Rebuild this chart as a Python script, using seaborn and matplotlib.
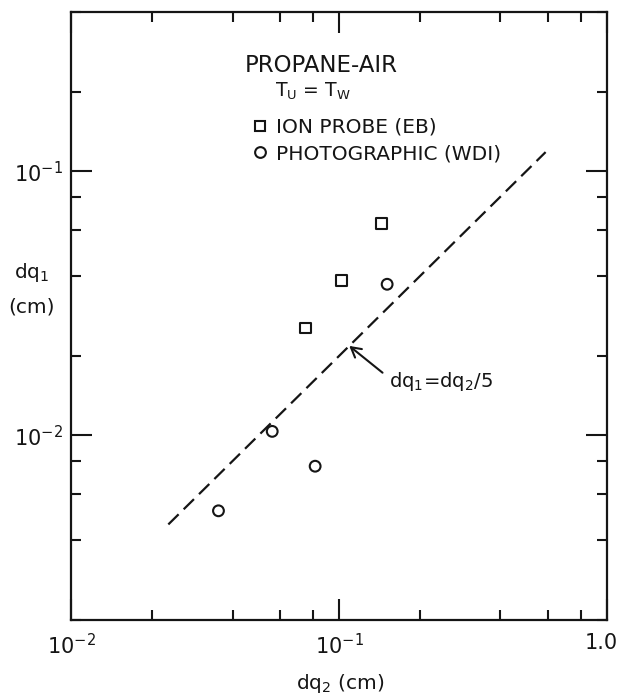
import matplotlib
matplotlib.use("Agg")
import matplotlib.pyplot as plt
from matplotlib.ticker import LogLocator, FixedLocator, FixedFormatter, NullFormatter
from matplotlib.transforms import ScaledTranslation
import pandas as pd
import seaborn as sns

# Quenching distance measurements, propane-air, Tu = Tw
ion_dq2 = [0.0746, 0.1017, 0.1435]
ion_dq1 = [0.0255, 0.0386, 0.0633]
photo_dq2 = [0.0354, 0.0562, 0.0813, 0.151]
photo_dq1 = [0.00518, 0.01035, 0.00764, 0.0373]
method_labels = ["ION PROBE (EB)", "PHOTOGRAPHIC (WDI)"]

# Correlation line dq1 = dq2 / 5
ratio = 5
line_dq2 = [0.023, 0.59]

x_ticks = [1e-2, 1e-1, 1.0]
x_tick_labels = ["10$^{-2}$", "10$^{-1}$", "1.0"]
y_ticks = [1e-2, 1e-1]
y_tick_labels = ["10$^{-2}$", "10$^{-1}$"]
minor_subs = [2, 4, 6, 8]

sns.set_theme(style="ticks")
plt.rcParams["font.family"] = ["DejaVu Sans"]
plt.rcParams["mathtext.fontset"] = "dejavusans"
plt.rcParams["mathtext.default"] = "regular"

ink = "#151515"

df = pd.DataFrame({
    "dq2": ion_dq2 + photo_dq2,
    "dq1": ion_dq1 + photo_dq1,
    "method": [method_labels[0]] * len(ion_dq2) + [method_labels[1]] * len(photo_dq2),
})
line_df = pd.DataFrame({"dq2": line_dq2, "dq1": [v / ratio for v in line_dq2]})

fig = plt.figure(figsize=(6.21, 6.99), dpi=100)
ax = fig.add_axes([0.1151, 0.1130, 0.8623, 0.8698])
ax.set_xscale("log")
ax.set_yscale("log")

sns.lineplot(data=line_df, x="dq2", y="dq1", ax=ax, color=ink, linewidth=1.6,
             linestyle=(0, (6.5, 3.2)), sort=False, estimator=None)
sns.scatterplot(data=df, x="dq2", y="dq1", style="method",
                markers={method_labels[0]: "s", method_labels[1]: "o"},
                s=60, facecolor="none", edgecolor=ink, linewidth=1.5,
                ax=ax, legend=True, zorder=3)

ax.set_xlim(1e-2, 1.0)
ax.set_ylim(2e-3, 0.4)

ax.xaxis.set_major_locator(FixedLocator(x_ticks))
ax.xaxis.set_major_formatter(FixedFormatter(x_tick_labels))
ax.yaxis.set_major_locator(FixedLocator(y_ticks))
ax.yaxis.set_major_formatter(FixedFormatter(y_tick_labels))
ax.xaxis.set_minor_locator(LogLocator(base=10, subs=minor_subs))
ax.yaxis.set_minor_locator(LogLocator(base=10, subs=minor_subs))
ax.xaxis.set_minor_formatter(NullFormatter())
ax.yaxis.set_minor_formatter(NullFormatter())

ax.tick_params(which="both", direction="in", top=True, right=True,
               color=ink, width=1.5, labelcolor=ink, labelsize=15)
ax.tick_params(which="major", length=15)
ax.tick_params(which="minor", length=7.5)
ax.tick_params(axis="x", which="major", pad=9)
ax.tick_params(axis="y", which="major", pad=6)

for sp in ax.spines.values():
    sp.set_color(ink)
    sp.set_linewidth(1.6)

ax.set_xlabel("dq$_2$ (cm)", fontsize=14.5, color=ink, va="center")
ax.xaxis.set_label_coords(0.501, -0.104)
ax.set_ylabel("dq$_1$\n(cm)", fontsize=14.5, color=ink, rotation=0,
              ha="center", va="center", linespacing=1.9)
ax.yaxis.set_label_coords(-0.074, 0.545)

ax.text(0.324, 0.901, "PROPANE-AIR", transform=ax.transAxes, fontsize=16.5,
        color=ink, ha="left", va="baseline")
ax.text(0.380, 0.860, "T$_U$ = T$_W$", transform=ax.transAxes, fontsize=13.5,
        color=ink, ha="left", va="baseline")

sns.move_legend(ax, "upper left", bbox_to_anchor=(0.336, 0.826), frameon=False,
                title=None, fontsize=14.5, borderpad=0, borderaxespad=0,
                handlelength=0.9, handletextpad=0.3, labelspacing=0.36,
                labelcolor=ink)

ax.annotate("dq$_1$=dq$_2$/5", xy=(0.109, 0.0218), xytext=(0.1535, 0.0160),
            fontsize=14, color=ink, ha="left", va="center",
            arrowprops=dict(arrowstyle="->,head_length=0.5,head_width=0.28",
                            color=ink, lw=1.5, shrinkA=3, shrinkB=0,
                            relpos=(0.0, 0.65)))

# Keep the "1.0" label inside the figure by nudging it left of its tick
fig.canvas.draw()
for lbl in ax.xaxis.get_majorticklabels():
    if lbl.get_text() == "1.0":
        lbl.set_transform(lbl.get_transform()
                          + ScaledTranslation(-0.06, 0, fig.dpi_scale_trans))

fig.savefig("out.png", dpi=100, facecolor="white")
